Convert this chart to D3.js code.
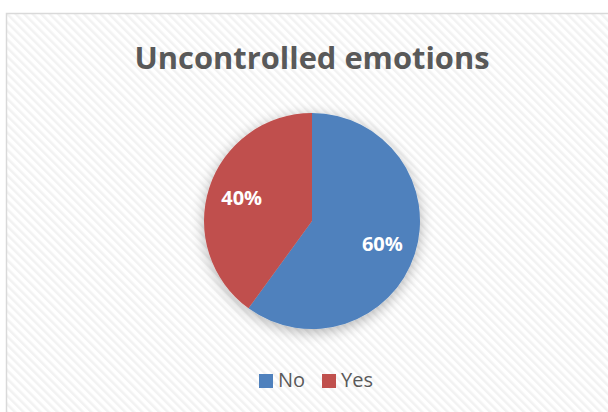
<!DOCTYPE html>
<html><head><meta charset="utf-8">
<script src="https://cdn.jsdelivr.net/npm/d3@7/dist/d3.min.js"></script>
<style>body{margin:0;background:#fff;}svg{display:block;}</style>
</head><body>
<script>
const categories = ["No", "Yes"];
const values = [60, 40];
const labels = ["60%", "40%"];
const colors = ["#4F81BD", "#C0504D"];
const title = "Uncontrolled emotions";

const W = 608, H = 412;
const svg = d3.select("body").append("svg").attr("width", W).attr("height", H);
const defs = svg.append("defs");
const pat = defs.append("pattern").attr("id", "stripes").attr("patternUnits", "userSpaceOnUse")
  .attr("width", 6).attr("height", 6).attr("patternTransform", "rotate(-45)");
pat.append("rect").attr("width", 6).attr("height", 6).attr("fill", "#ffffff");
pat.append("rect").attr("width", 2.5).attr("height", 6).attr("fill", "#f2f2f2");

const shadow = defs.append("filter").attr("id", "sh").attr("x", "-30%").attr("y", "-30%").attr("width", "160%").attr("height", "160%");
shadow.append("feGaussianBlur").attr("in", "SourceAlpha").attr("stdDeviation", 7).attr("result", "b");
shadow.append("feOffset").attr("in", "b").attr("dx", 0).attr("dy", 3).attr("result", "o");
shadow.append("feComponentTransfer").attr("in", "o").attr("result", "oa")
  .append("feFuncA").attr("type", "linear").attr("slope", 0.3);
const m = shadow.append("feMerge");
m.append("feMergeNode").attr("in", "oa");
m.append("feMergeNode").attr("in", "SourceGraphic");

svg.append("rect").attr("x", 6.5).attr("y", 13.5).attr("width", W).attr("height", H)
  .attr("fill", "url(#stripes)").attr("stroke", "#d9d9d9").attr("stroke-width", 1.5);

svg.append("text").attr("x", 312).attr("y", 69).attr("text-anchor", "middle")
  .attr("font-family", "'Open Sans', sans-serif").attr("font-weight", "bold")
  .attr("font-size", 31).attr("fill", "#595959")
  .attr("textLength", 355).attr("lengthAdjust", "spacingAndGlyphs").text(title);

const cx = 312, cy = 221, r = 108;
const pie = d3.pie().sort(null).value(d => d)(values);
const arc = d3.arc().innerRadius(0).outerRadius(r);
const g = svg.append("g").attr("transform", `translate(${cx},${cy})`);
g.append("g").attr("filter", "url(#sh)").selectAll("path").data(pie).join("path")
  .attr("d", arc).attr("fill", (d, i) => colors[i]);

const labelArc = d3.arc().innerRadius(r * 0.685).outerRadius(r * 0.685);
g.selectAll("text.lbl").data(pie).join("text").attr("class", "lbl")
  .attr("transform", d => `translate(${labelArc.centroid(d)})`)
  .attr("text-anchor", "middle").attr("dy", "0.36em")
  .attr("font-family", "'Open Sans', sans-serif").attr("font-weight", "bold")
  .attr("font-size", 20).attr("fill", "#ffffff")
  .text((d, i) => labels[i]);

const leg = svg.append("g");
const legX = [259, 322];
categories.forEach((c, i) => {
  leg.append("rect").attr("x", legX[i]).attr("y", 374).attr("width", 14).attr("height", 14).attr("fill", colors[i]);
  leg.append("text").attr("x", legX[i] + 19).attr("y", 387)
    .attr("font-family", "'Open Sans', sans-serif").attr("font-size", 20).attr("fill", "#595959").text(c);
});
</script>
</body></html>
